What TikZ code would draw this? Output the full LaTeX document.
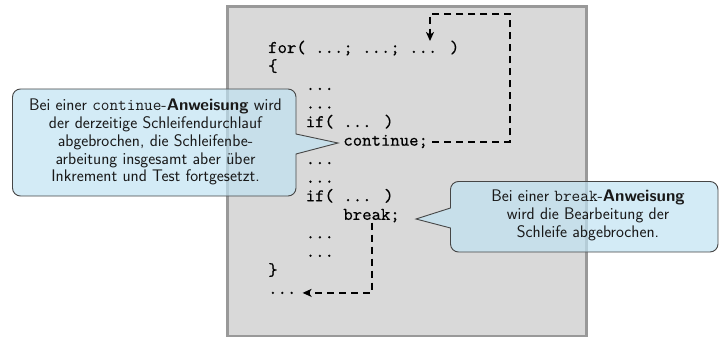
\documentclass[tikz,border=0pt]{standalone}
\usepackage{fontspec}
\usetikzlibrary{arrows.meta}

\definecolor{panelfill}{RGB}{217,217,217}
\definecolor{panelline}{RGB}{153,153,153}
\definecolor{notefill}{RGB}{192,226,242}
\definecolor{noteline}{RGB}{70,70,70}
\definecolor{notetext}{RGB}{25,25,25}

% listing face: Latin Modern Mono 10, slightly emboldened
\newfontfamily\listingfam{lmmono10-regular.otf}[FakeBold=0.35]
\newcommand\codefont{\listingfam\fontsize{17.9}{18.5}\selectfont}
\newcommand\notefont{\sffamily\fontsize{16.8}{17.9}\selectfont}

\begin{document}
\begin{tikzpicture}[x=1pt,y=-1pt,
  code/.style={anchor=base west, inner sep=0pt, font=\codefont},
  flow/.style={line width=2pt, dash pattern=on 7pt off 5pt,
    -{Stealth[length=9pt,width=8pt,inset=2.5pt]}},
  note/.style={draw=noteline, line width=0.9pt, fill=notefill, fill opacity=0.7},
  notetext/.style={align=center, text=notetext, font=\notefont, inner sep=0pt}]

\useasboundingbox (0,0) rectangle (724,337);

% code panel
\draw[panelline, line width=3pt, fill=panelfill] (227.5,6.5) rectangle (586.5,336.5);

% listing, one node per line (column width 9.4)
\node[code] (l0)  at (268,53)      {for( ...; ...; ... )};
\node[code] (l1)  at (268,71.54)   {\{};
\node[code] (l2)  at (305.6,90.08) {...};
\node[code] (l3)  at (305.6,108.62){...};
\node[code] (l4)  at (305.6,127.16){if( ... )};
\node[code] (cont) at (343.2,145.7){continue;};
\node[code] (l6)  at (305.6,164.24){...};
\node[code] (l7)  at (305.6,182.78){...};
\node[code] (l8)  at (305.6,201.32){if( ... )};
\node[code] (brk) at (343.2,219.86){break;};
\node[code] (l10) at (305.6,238.4) {...};
\node[code] (l11) at (305.6,256.94){...};
\node[code] (l12) at (268,275.48)  {\}};
\node[code] (enddots) at (268,294.02){...};

% jump targets and corners
\coordinate (inc) at (430,41);
\coordinate (loopcorner) at (510,14);

% continue: back to the increment of the loop head
\draw[flow] ([xshift=4pt]cont.east) -| (loopcorner) -| (inc);
% break: out of the loop
\draw[flow] (brk.south) |- ([xshift=6pt]enddots.east);

% note on continue
\path[note] (20.5,89) -- (288,89) .. controls (292.4,89) and (296,92.6) .. (296,97)
  -- (296,134) -- (338,143) -- (296,154)
  -- (296,188) .. controls (296,192.4) and (292.4,196) .. (288,196)
  -- (20.5,196) .. controls (16.1,196) and (12.5,192.4) .. (12.5,188)
  -- (12.5,97) .. controls (12.5,92.6) and (16.1,89) .. (20.5,89) -- cycle;
\node[notetext] (contnote) at (155.5,142)
  {Bei einer \texttt{continue}-\textbf{Anweisung} wird\\
   der derzeitige Schleifendurchlauf\\
   abgebrochen, die Schleifenbe-\\
   arbeitung insgesamt aber über\\
   Inkrement und Test fortgesetzt.};

% note on break
\path[note] (458.5,181.5) -- (710,181.5) .. controls (714.4,181.5) and (718,185.1) .. (718,189.5)
  -- (718,244) .. controls (718,248.4) and (714.4,252) .. (710,252)
  -- (458.5,252) .. controls (454.1,252) and (450.5,248.4) .. (450.5,244)
  -- (450.5,228) -- (416,219) -- (450.5,208)
  -- (450.5,189.5) .. controls (450.5,185.1) and (454.1,181.5) .. (458.5,181.5) -- cycle;
\node[notetext] (brknote) at (588,215)
  {Bei einer \texttt{break}-\textbf{Anweisung}\\
   wird die Bearbeitung der\\
   Schleife abgebrochen.};
\end{tikzpicture}
\end{document}
